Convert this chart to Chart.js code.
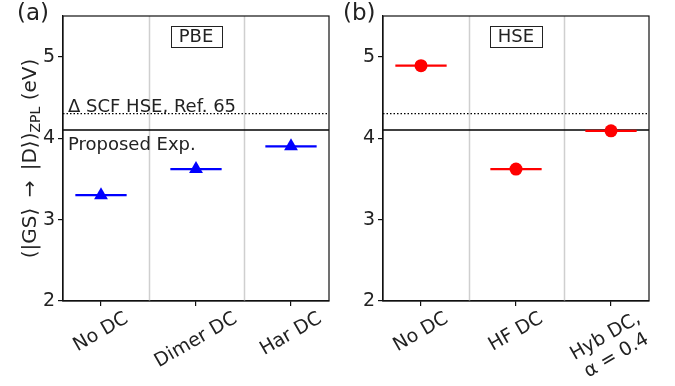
<!DOCTYPE html>
<html>
<head>
<meta charset="utf-8">
<script src="https://cdn.jsdelivr.net/npm/chart.js@4.4.0/dist/chart.umd.min.js"></script>
<style>
  html, body { margin: 0; padding: 0; background: #fff; }
  #wrap { position: relative; width: 675px; height: 386px; }
  canvas { position: absolute; top: 0; }
  #chartA { left: 0; }
  #chartB { left: 340px; }
</style>
</head>
<body>
<div id="wrap">
  <canvas id="chartA" width="340" height="386"></canvas>
  <canvas id="chartB" width="335" height="386"></canvas>
</div>
<script>
// Datos
const catsPBE = ['No DC', 'Dimer DC', 'Har DC'];
const valsPBE = [3.30, 3.62, 3.90];
const catsHSE = ['No DC', 'HF DC', ['Hyb DC,', 'α = 0.4']];
const valsHSE = [4.89, 3.62, 4.09];
const refDeltaSCF = 4.30;   // linea punteada
const refExp = 4.10;        // linea continua
const yTicks = [2, 3, 4, 5];
const separators = [0.5, 1.5];

const FONT = 'DejaVu Sans';
const HALF_WIDTH = 0.27;   // semiancho de los segmentos horizontales

// Plugin con todo lo que Chart.js no dibuja solo
const panelDecor = {
    id: 'panelDecor',
    beforeDatasetsDraw(chart) {
        const { ctx, chartArea: a, scales: { x, y } } = chart;
        ctx.save();
        // separadores verticales
        ctx.strokeStyle = '#cfcfcf';
        ctx.lineWidth = 1.5;
        separators.forEach(s => {
            const px = Math.round(x.getPixelForValue(s)) + 0.5;
            ctx.beginPath(); ctx.moveTo(px, a.top); ctx.lineTo(px, a.bottom); ctx.stroke();
        });
        // referencias horizontales
        ctx.strokeStyle = '#000';
        ctx.lineWidth = 1.3;
        ctx.setLineDash([1.5, 2]);
        let py = y.getPixelForValue(refDeltaSCF);
        ctx.beginPath(); ctx.moveTo(a.left, py); ctx.lineTo(a.right, py); ctx.stroke();
        ctx.setLineDash([]);
        ctx.lineWidth = 1.6;
        py = y.getPixelForValue(refExp);
        ctx.beginPath(); ctx.moveTo(a.left, py); ctx.lineTo(a.right, py); ctx.stroke();
        ctx.restore();
    },
    afterDraw(chart) {
        const { ctx, chartArea: a, scales: { x, y } } = chart;
        const o = chart.options.plugins.panelDecor;
        ctx.save();
        // marco completo
        ctx.strokeStyle = '#111';
        ctx.lineWidth = 1.2;
        ctx.strokeRect(a.left, a.top, a.right - a.left, a.bottom - a.top);

        ctx.fillStyle = '#222';
        ctx.textBaseline = 'top';
        ctx.textAlign = 'left';
        ctx.font = '23px "' + FONT + '"';
        ctx.fillText(o.letter, o.letterX, 3);

        // etiqueta del funcional en su caja
        ctx.font = '18px "' + FONT + '"';
        const tw = ctx.measureText(o.tag).width;
        const cx = x.getPixelForValue(1);
        const bw = tw + 16, bh = 21, by = a.top + 10;
        ctx.strokeStyle = '#222';
        ctx.lineWidth = 1;
        ctx.strokeRect(Math.round(cx - bw / 2) + 0.5, by + 0.5, Math.round(bw), bh);
        ctx.textAlign = 'center';
        ctx.textBaseline = 'middle';
        ctx.fillText(o.tag, cx, by + bh / 2 + 1);

        if (o.refLabels) {
            ctx.textAlign = 'left';
            ctx.textBaseline = 'alphabetic';
            ctx.fillText('Δ SCF HSE, Ref. 65', a.left + 5, y.getPixelForValue(refDeltaSCF) - 2);
            ctx.fillText('Proposed Exp.', a.left + 5, y.getPixelForValue(refExp) + 20);
        }

        // etiquetas del eje x giradas 30 grados, centradas en el tick
        const fs = 19, lh = 22;
        ctx.font = fs + 'px "' + FONT + '"';
        const ang = 30 * Math.PI / 180;
        o.cats.forEach((c, i) => {
            const lines = Array.isArray(c) ? c : [c];
            const w = Math.max(...lines.map(l => ctx.measureText(l).width));
            const h = fs + (lines.length - 1) * lh;
            const bboxH = w * Math.sin(ang) + h * Math.cos(ang);
            const px = x.getPixelForValue(i);
            const py = a.bottom + 8 + bboxH / 2;
            ctx.save();
            ctx.translate(px, py);
            ctx.rotate(-ang);
            ctx.textAlign = 'center';
            ctx.textBaseline = 'middle';
            lines.forEach((l, j) => ctx.fillText(l, 0, (j - (lines.length - 1) / 2) * lh));
            ctx.restore();
        });

        // titulo del eje y con subindice
        if (o.yTitle) {
            const big = '20px "' + FONT + '"', small = '14px "' + FONT + '"';
            const p1 = '(|GS⟩ \u2009→\u2009 |D⟩)', p2 = 'ZPL', p3 = ' (eV)';
            ctx.font = big; const w1 = ctx.measureText(p1).width, w3 = ctx.measureText(p3).width;
            ctx.font = small; const w2 = ctx.measureText(p2).width;
            const total = w1 + w2 + w3;
            ctx.save();
            ctx.translate(36, (a.top + a.bottom) / 2);
            ctx.rotate(-Math.PI / 2);
            ctx.textAlign = 'left';
            ctx.textBaseline = 'alphabetic';
            let sx = -total / 2;
            ctx.font = big; ctx.fillText(p1, sx, 0); sx += w1;
            ctx.font = small; ctx.fillText(p2, sx, 4); sx += w2;
            ctx.font = big; ctx.fillText(p3, sx, 0);
            ctx.restore();
        }
        ctx.restore();
    }
};

function makePanel(id, cats, vals, color, marker, tag, letter, letterX, yWidth, padRight, refLabels, yTitle) {
    const datasets = [{
        type: 'scatter',
        data: vals.map((v, i) => ({ x: i, y: v })),
        pointStyle: marker,
        pointRadius: marker === 'triangle' ? 8 : 6.5,
        backgroundColor: color,
        borderColor: color,
        borderWidth: 0,
        order: 0
    }];
    vals.forEach((v, i) => {
        datasets.push({
            type: 'line',
            data: [{ x: i - HALF_WIDTH, y: v }, { x: i + HALF_WIDTH, y: v }],
            borderColor: color,
            borderWidth: 2.2,
            pointRadius: 0,
            order: 1
        });
    });
    return new Chart(document.getElementById(id), {
        type: 'scatter',
        data: { datasets },
        options: {
            responsive: false,
            devicePixelRatio: 1,
            animation: false,
            layout: { padding: { top: 16, right: padRight, left: 0, bottom: 0 } },
            plugins: {
                legend: { display: false },
                tooltip: { enabled: false },
                panelDecor: { cats, tag, letter, letterX, refLabels, yTitle }
            },
            scales: {
                x: {
                    type: 'linear',
                    min: -0.4,
                    max: 2.4,
                    afterBuildTicks: s => { s.ticks = cats.map((c, i) => ({ value: i })); },
                    afterFit: s => { s.height = 85; },
                    ticks: { callback: () => '', font: { size: 1 } },
                    grid: { drawOnChartArea: false, drawTicks: true, tickLength: 5, color: '#111', lineWidth: 1.2 },
                    border: { color: '#111', width: 1.2 }
                },
                y: {
                    min: 2,
                    max: 5.5,
                    afterBuildTicks: s => { s.ticks = yTicks.map(v => ({ value: v })); },
                    afterFit: s => { s.width = yWidth; },
                    ticks: { font: { family: FONT, size: 19 }, color: '#222', padding: 3 },
                    grid: { drawOnChartArea: false, drawTicks: true, tickLength: 5, color: '#111', lineWidth: 1.2 },
                    border: { color: '#111', width: 1.2 }
                }
            }
        },
        plugins: [panelDecor]
    });
}

makePanel('chartA', catsPBE, valsPBE, '#0000ff', 'triangle', 'PBE', '(a)', 17, 63, 11, true, true);
makePanel('chartB', catsHSE, valsHSE, '#ff0000', 'circle', 'HSE', '(b)', 3, 43, 26, false, false);
</script>
</body>
</html>
